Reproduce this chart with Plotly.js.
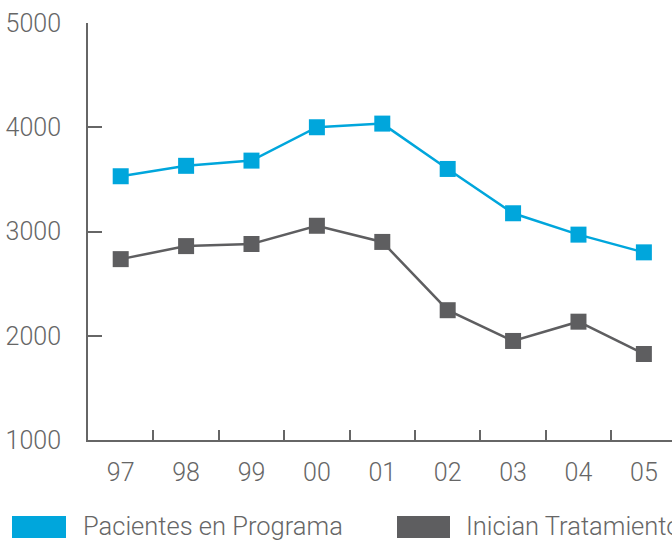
<!DOCTYPE html>
<html>
<head>
<meta charset="utf-8">
<script src="https://cdn.plot.ly/plotly-3.0.1.min.js"></script>
<style>html,body{margin:0;padding:0;background:#fff;}#chart{width:672px;height:540px;}</style>
</head>
<body>
<div id="chart"></div>
<script>
var years = ['97','98','99','00','01','02','03','04','05'];
var seriesNames = ['Pacientes en Programa', 'Inician Tratamiento'];
var pacientes = [3530, 3630, 3680, 4000, 4035, 3600, 3175, 2970, 2800];
var inician = [2735, 2860, 2880, 3055, 2900, 2245, 1950, 2135, 1825];
var yTicks = [1000, 2000, 3000, 4000, 5000];

var blue = '#00A6DC', grey = '#5E5E60', axisC = '#666666', txt = '#666666';
var FONT = 'Roboto, "Open Sans", sans-serif';

function tr(y, name, color) {
  return {x: years, y: y, name: name, type: 'scatter', mode: 'lines+markers',
    line: {color: color, width: 2.5}, marker: {symbol: 'square', size: 16, color: color},
    showlegend: false, cliponaxis: false};
}
var data = [tr(pacientes, seriesNames[0], blue), tr(inician, seriesNames[1], grey)];

function px2x(p){ return (p-88)/584; }
function py2y(p){ return (440-p)/417; }

var layout = {
  width: 672, height: 540,
  margin: {l: 88, r: 0, t: 23, b: 100, pad: 0},
  paper_bgcolor: '#fff', plot_bgcolor: '#fff',
  font: {family: FONT, color: txt, size: 25, weight: 300},
  xaxis: {type: 'category', range: [-0.5, 8.43], showgrid: false, zeroline: false,
    showline: true, linecolor: axisC, linewidth: 2, ticks: 'inside', ticklen: 10,
    tickwidth: 2, tickcolor: axisC, tickson: 'boundaries', ticklabelstandoff: 9,
    tickfont: {family: FONT, size: 25, color: txt, weight: 300}},
  yaxis: {range: [1000, 5000], tickvals: yTicks, ticktext: yTicks.map(String),
    showgrid: false, zeroline: false, showline: true, linecolor: axisC, linewidth: 2,
    ticks: 'inside', ticklen: 14, tickwidth: 2, tickcolor: axisC, ticklabelstandoff: 20,
    tickfont: {family: FONT, size: 25, color: txt, weight: 300}},
  shapes: [
    {type: 'rect', xref: 'paper', yref: 'paper', x0: px2x(12), x1: px2x(66), y0: py2y(538), y1: py2y(516), fillcolor: blue, line: {width: 0}},
    {type: 'rect', xref: 'paper', yref: 'paper', x0: px2x(397), x1: px2x(450), y0: py2y(538), y1: py2y(516), fillcolor: grey, line: {width: 0}}
  ],
  annotations: [
    {xref: 'paper', yref: 'paper', x: px2x(81), y: py2y(526), xanchor: 'left', yanchor: 'middle', text: seriesNames[0], showarrow: false, font: {family: FONT, size: 25.5, color: txt, weight: 300}},
    {xref: 'paper', yref: 'paper', x: px2x(464), y: py2y(526), xanchor: 'left', yanchor: 'middle', text: seriesNames[1], showarrow: false, font: {family: FONT, size: 25.5, color: txt, weight: 300}}
  ]
};
Plotly.newPlot('chart', data, layout, {staticPlot: true, displayModeBar: false});
</script>
</body>
</html>
